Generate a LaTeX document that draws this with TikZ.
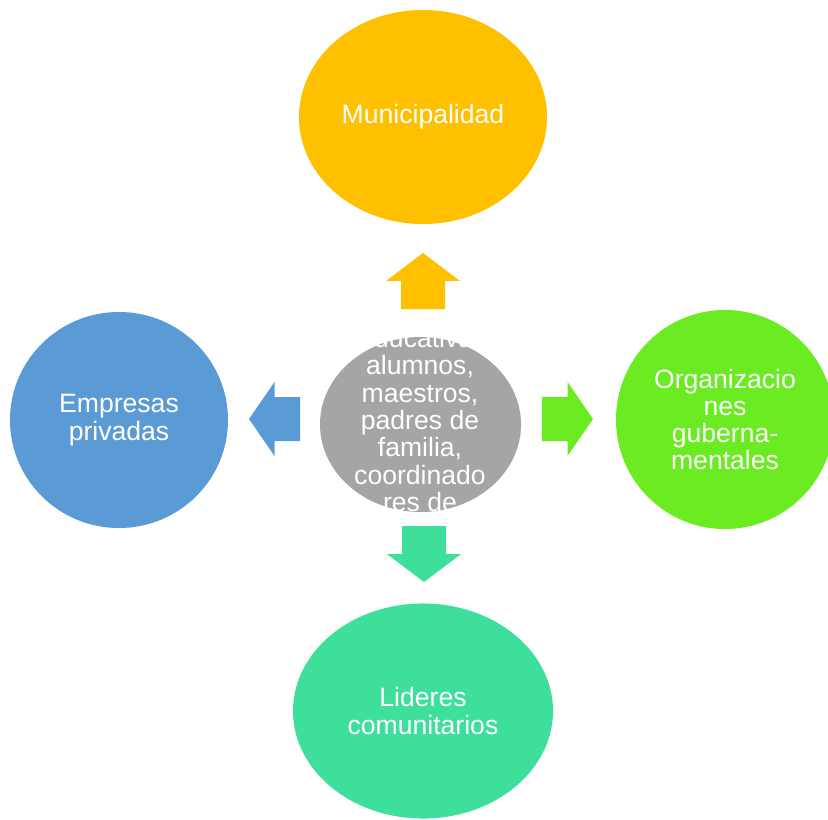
\documentclass[tikz,border=0pt]{standalone}
\usepackage{fontspec}
\setmainfont{Liberation Sans}
\usetikzlibrary{shapes.geometric}

\definecolor{muniorange}{HTML}{FFC000}
\definecolor{empblue}{HTML}{5B9BD5}
\definecolor{orggreen}{HTML}{6AEB22}
\definecolor{lidteal}{HTML}{3EDF9A}
\definecolor{centgray}{HTML}{A5A5A5}

\tikzset{
  blob/.style={ellipse, inner sep=0pt, text=white, align=center,
    font=\fontsize{18.9}{19.4}\selectfont},
  pics/blockarrow/.style={code={
    \fill (0,-22) -- (#1,-22) -- (#1,-37) -- (2*#1,0) -- (#1,37) -- (#1,22) -- (0,22) -- cycle;
  }}
}

\begin{document}
\begin{tikzpicture}[x=0.025cm, y=-0.025cm]
\useasboundingbox (0,0) rectangle (828,820);

\node[blob, fill=muniorange, minimum width=6.2cm, minimum height=5.35cm, name=muni] at (423,117) {Municipalidad};
\node[blob, fill=empblue, minimum width=5.45cm, minimum height=5.4cm, name=emp] at (119,420) {Empresas\\privadas};
\node[blob, fill=orggreen, minimum width=5.45cm, minimum height=5.475cm, name=org] at (725,419.5) {Organizacio\\nes\\guberna-\\mentales};
\node[blob, fill=lidteal, minimum width=6.5cm, minimum height=5.375cm, name=lid] at (423,711) {Lideres\\comunitarios};

% centro, el texto se corta arriba y abajo
\node[blob, fill=centgray, minimum width=5.025cm, minimum height=4.375cm, name=centro] at (420.5,424.5) {};
\begin{scope}
  \clip (300,337) rectangle (540,512);
  \node[blob, name=centrotxt] at (420,420) {educativa:\\alumnos,\\maestros,\\padres de\\familia,\\coordinado\\res de};
\end{scope}

\pic[fill=muniorange, rotate=90] at (423,309) {blockarrow=28};
\pic[fill=empblue, rotate=180] at (300,419) {blockarrow=25.5};
\pic[fill=orggreen] at (542,419) {blockarrow=25.5};
\pic[fill=lidteal, rotate=270] at (424,526) {blockarrow=28};
\end{tikzpicture}
\end{document}
